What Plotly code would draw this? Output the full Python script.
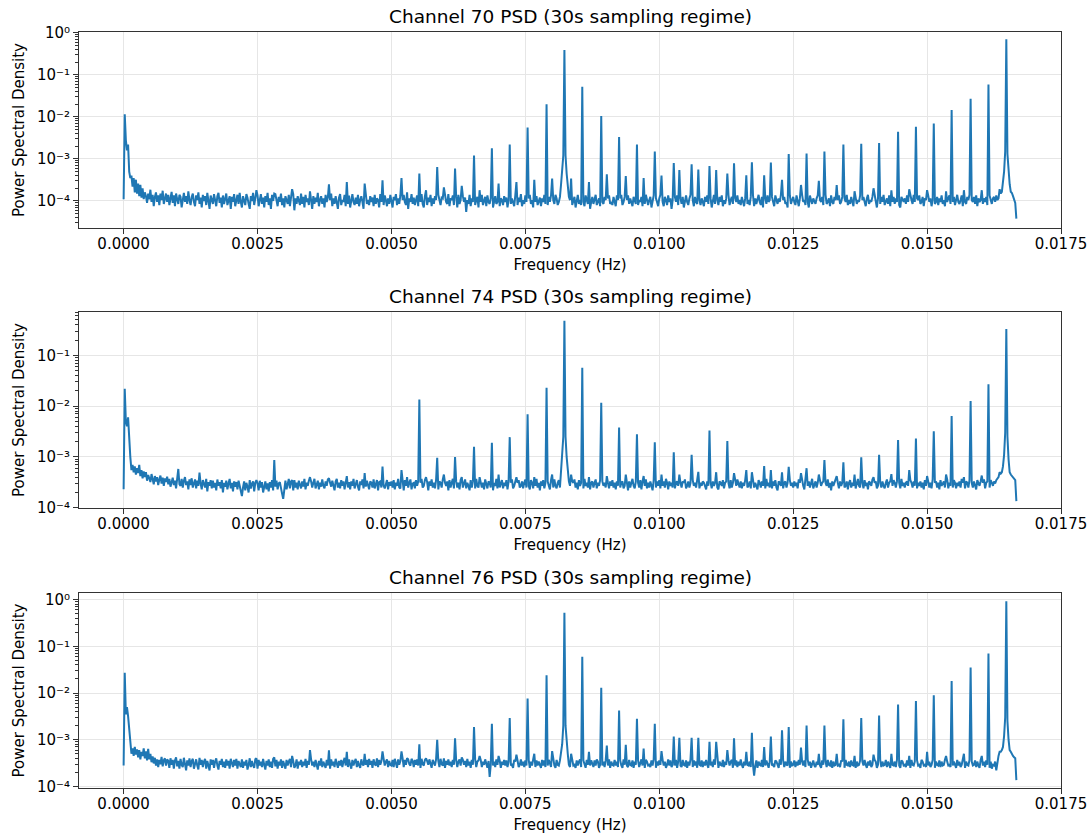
import numpy as np
import plotly.graph_objects as go

# ---------------- data ----------------
NYQUIST_HZ = 1 / 60  # 30 s sampling
TITLES = ["Channel 70 PSD (30s sampling regime)",
          "Channel 74 PSD (30s sampling regime)",
          "Channel 76 PSD (30s sampling regime)"]

X_TICKS = [0.0, 0.0025, 0.005, 0.0075, 0.01, 0.0125, 0.015, 0.0175]
X_TICK_LABELS = ["0.0000", "0.0025", "0.0050", "0.0075", "0.0100", "0.0125", "0.0150", "0.0175"]
Y_TICKS = [1, 0.1, 0.01, 0.001, 0.0001]
Y_TICK_LABELS = ["10\u2070", "10\u207b\u00b9", "10\u207b\u00b2", "10\u207b\u00b3", "10\u207b\u2074"]

# harmonic comb A (centred on 0.00823 Hz), m = -17 .. 24
A_FREQS = [0.002469, 0.002808, 0.003147, 0.003486, 0.003825, 0.004163, 0.004502, 0.004841,
           0.005180, 0.005519, 0.005858, 0.006197, 0.006536, 0.006874, 0.007213, 0.007552,
           0.007891, 0.008230, 0.008569, 0.008908, 0.009247, 0.009586, 0.009925, 0.010263,
           0.010602, 0.010941, 0.011280, 0.011619, 0.011958, 0.012297, 0.012636, 0.012975,
           0.013314, 0.013652, 0.013991, 0.014330, 0.014669, 0.015008, 0.015347, 0.015686,
           0.016025, 0.016364]
# harmonic comb B (folded from Nyquist), n = 0 .. 33
B_FREQS = [0.016482, 0.016143, 0.015804, 0.015465, 0.015126, 0.014788, 0.014449, 0.014110,
           0.013771, 0.013432, 0.013093, 0.012754, 0.012415, 0.012076, 0.011737, 0.011398,
           0.011060, 0.010721, 0.010382, 0.010043, 0.009704, 0.009365, 0.009026, 0.008687,
           0.008348, 0.008010, 0.007671, 0.007332, 0.006993, 0.006654, 0.006315, 0.005976,
           0.005637, 0.005299]
# skirts of the two dominant lines
SKIRT_FREQS = [0.008167, 0.008188, 0.008209, 0.008251, 0.008272, 0.008293,
               0.016419, 0.016440, 0.016461, 0.016503, 0.016524, 0.016545]

# peak heights
CH70_A = [1.8e-4, 1.5e-4, 1.9e-4, 1.7e-4, 2.5e-4, 2.8e-4, 2.6e-4, 3.1e-4, 3.5e-4, 4.5e-4,
          6.4e-4, 5.9e-4, 1.2e-3, 1.8e-3, 2.2e-3, 5.6e-3, 2.0e-2, 0.39, 0.052, 0.0104,
          3.3e-3, 2.2e-3, 1.5e-3, 8.0e-4, 7.4e-4, 6.8e-4, 4.5e-4, 4.1e-4, 4.1e-4, 3.2e-4,
          2.4e-4, 3.0e-4, 2.4e-4, 1.7e-4, 2.0e-4, 1.8e-4, 1.9e-4, 1.8e-4, 1.7e-4, 1.8e-4,
          1.8e-4, 1.9e-4]
CH70_B = [0.70, 0.059, 0.027, 0.0145, 0.0069, 0.0058, 0.0044, 0.0024, 0.0023, 0.0022,
          0.0015, 0.00134, 0.0013, 0.00082, 0.00083, 0.00079, 0.00054, 0.00056, 0.00054, 0.00040,
          0.00035, 0.00039, 0.00043, 0.00028, 0.00034, 0.00034, 0.00032, 0.00028, 0.00026, 0.00018,
          0.00023, 0.00021, 0.00018, 0.00016]
CH70_SKIRT = [2.5e-4, 4.5e-4, 1.2e-3, 1.2e-3, 4.5e-4, 2.5e-4,
              2.5e-4, 5.0e-4, 1.5e-3, 1.3e-3, 4.5e-4, 2.5e-4]
CH74_A = [3.5e-4, 8.7e-4, 3.5e-4, 4.0e-4, 3.8e-4, 4.2e-4, 4.8e-4, 6.5e-4, 5.5e-4, 0.0135,
          9.6e-4, 1.0e-3, 1.58e-3, 1.9e-3, 2.45e-3, 6.9e-3, 0.023, 0.48, 0.057, 0.0117,
          3.8e-3, 2.8e-3, 1.95e-3, 1.23e-3, 1.1e-3, 3.3e-3, 2.05e-3, 5.5e-4, 6.6e-4, 5.0e-4,
          4.8e-4, 4.5e-4, 4.2e-4, 4.5e-4, 4.0e-4, 4.6e-4, 5.5e-4, 4.2e-4, 4.5e-4, 4.0e-4,
          4.3e-4, 5.0e-4]
CH74_B = [0.33, 0.027, 0.0126, 0.0064, 0.0032, 0.0023, 0.00215, 0.0011, 0.00098, 0.00078,
          0.00087, 0.0006, 0.00064, 0.00055, 0.0005, 0.00048, 0.0005, 0.00051, 0.00045, 0.00045,
          0.00042, 0.00045, 0.00042, 0.0004, 0.00045, 0.00045, 0.0004, 0.0004, 0.00045, 0.0004,
          0.0004, 0.00045, 0.0004, 0.0004]
CH74_SKIRT = [5.5e-4, 1.0e-3, 2.5e-3, 2.5e-3, 1.0e-3, 5.5e-4,
              6.5e-4, 1.1e-3, 3.0e-3, 2.5e-3, 9.0e-4, 5.0e-4]
CH76_A = [4.0e-4, 4.2e-4, 4.5e-4, 6.0e-4, 5.9e-4, 5.5e-4, 5.0e-4, 5.6e-4, 5.6e-4, 8.0e-4,
          1.0e-3, 1.07e-3, 1.86e-3, 2.2e-3, 2.9e-3, 7.6e-3, 0.024, 0.52, 0.060, 0.0129,
          4.2e-3, 2.8e-3, 2.2e-3, 1.17e-3, 1.1e-3, 9.0e-4, 6.0e-4, 5.5e-4, 7.0e-4, 1.6e-3,
          6.8e-4, 5.0e-4, 5.0e-4, 4.5e-4, 4.8e-4, 5.0e-4, 4.5e-4, 5.5e-4, 4.5e-4, 5.0e-4,
          4.5e-4, 5.5e-4]
CH76_B = [0.92, 0.070, 0.035, 0.018, 0.0089, 0.0067, 0.0057, 0.0033, 0.0029, 0.00275,
          0.0020, 0.0020, 0.00186, 0.00117, 0.0014, 0.00107, 0.0009, 0.0011, 0.0011, 0.00057,
          0.00065, 0.00078, 0.00075, 0.00055, 0.0005, 0.00057, 0.0005, 0.00048, 0.00045, 0.00045,
          0.00042, 0.0004, 0.0004, 0.0004]
CH76_SKIRT = [5.0e-4, 8.0e-4, 2.0e-3, 2.0e-3, 8.0e-4, 5.0e-4,
              7.0e-4, 1.2e-3, 3.0e-3, 2.5e-3, 1.0e-3, 6.0e-4]

# broadband PSD level per frequency bin (units of 1e-6), 801 bins from 0 to Nyquist
CH70_BASE = [
    110, 11500, 2800, 1600, 2200, 500, 350, 400, 220, 350, 160, 320, 150, 260, 130, 240, 120, 200, 110, 160,
    130, 90, 150, 110, 185, 95, 140, 75, 125, 160, 95, 135, 80, 150, 105, 175, 85, 125, 150, 95,
    140, 80, 120, 165, 90, 135, 75, 150, 110, 85, 140, 125, 70, 120, 155, 95, 130, 85, 170, 105,
    80, 125, 150, 95, 75, 135, 105, 160, 85, 120, 70, 140, 100, 130, 80, 155, 95, 65, 135, 110,
    85, 145, 100, 75, 130, 155, 90, 120, 70, 135, 85, 110, 150, 80, 105, 130, 65, 125, 95, 145,
    75, 115, 140, 85, 155, 95, 70, 130, 105, 80, 145, 120, 85, 65, 130, 100, 155, 80, 115, 95,
    135, 75, 105, 145, 85, 120, 70, 130, 95, 155, 80, 115, 65, 140, 100, 85, 145, 105, 75, 125,
    95, 150, 80, 115, 70, 130, 105, 85, 140, 75, 120, 95, 145, 60, 115, 85, 130, 100, 80, 150,
    85, 125, 70, 140, 95, 115, 80, 145, 105, 65, 130, 85, 120, 95, 155, 75, 105, 130, 85, 115,
    70, 140, 95, 120, 80, 105, 150, 75, 115, 85, 130, 95, 65, 120, 145, 80, 105, 95, 140, 75,
    115, 85, 135, 70, 105, 145, 95, 80, 120, 85, 140, 75, 105, 130, 95, 65, 115, 150, 85, 105,
    80, 130, 95, 120, 75, 140, 85, 115, 105, 70, 145, 95, 120, 80, 135, 105, 75, 115, 85, 140,
    95, 70, 125, 105, 145, 80, 115, 85, 135, 75, 105, 140, 95, 80, 120, 65, 115, 95, 145, 85,
    120, 80, 105, 135, 75, 115, 95, 145, 85, 70, 130, 105, 80, 120, 95, 140, 75, 115, 85, 130,
    105, 75, 140, 95, 80, 120, 115, 65, 130, 95, 85, 145, 75, 115, 105, 135, 80, 95, 125, 70,
    140, 85, 105, 80, 130, 95, 120, 55, 105, 85, 140, 75, 115, 95, 130, 80, 105, 125, 70, 115,
    95, 140, 80, 105, 125, 75, 135, 95, 85, 115, 145, 70, 105, 130, 85, 95, 125, 75, 115, 105,
    80, 130, 95, 120, 70, 105, 140, 85, 115, 95, 75, 135, 105, 80, 120, 95, 145, 75, 105, 85,
    135, 95, 75, 115, 140, 85, 105, 70, 125, 95, 130, 80, 105, 120, 75, 115, 95, 140, 85, 105,
    80, 125, 95, 135, 75, 105, 85, 140, 115, 80, 95, 125, 70, 130, 105, 85, 115, 95, 75, 125,
    105, 135, 80, 95, 125, 70, 115, 140, 85, 105, 80, 125, 95, 75, 135, 105, 85, 115, 65, 95,
    125, 85, 105, 140, 80, 95, 115, 75, 130, 95, 85, 125, 105, 70, 115, 135, 85, 95, 80, 125,
    95, 75, 135, 105, 85, 115, 140, 80, 95, 125, 70, 105, 135, 85, 115, 95, 75, 125, 105, 85,
    135, 80, 105, 95, 125, 75, 115, 85, 140, 95, 80, 105, 125, 70, 95, 135, 85, 115, 95, 75,
    115, 140, 85, 95, 75, 125, 105, 80, 135, 95, 115, 65, 105, 85, 125, 95, 135, 80, 105, 115,
    85, 125, 70, 105, 135, 95, 80, 115, 140, 85, 105, 75, 125, 95, 85, 135, 105, 80, 115, 95,
    75, 125, 95, 135, 85, 105, 115, 70, 95, 140, 85, 115, 105, 80, 125, 95, 135, 75, 105, 85,
    115, 95, 140, 80, 105, 125, 85, 70, 115, 95, 135, 85, 105, 80, 125, 95, 75, 115, 140, 85,
    105, 80, 125, 95, 135, 75, 115, 85, 105, 140, 95, 80, 125, 70, 105, 115, 85, 135, 95, 105,
    80, 125, 95, 75, 135, 105, 85, 115, 95, 140, 80, 105, 125, 85, 95, 70, 115, 135, 85, 105,
    125, 95, 80, 135, 105, 75, 115, 85, 140, 95, 105, 80, 125, 95, 70, 135, 105, 85, 115, 95,
    85, 115, 135, 75, 105, 95, 125, 80, 105, 140, 85, 95, 115, 75, 135, 95, 85, 125, 105, 80,
    105, 135, 85, 95, 125, 75, 115, 95, 140, 80, 105, 85, 125, 95, 75, 135, 115, 85, 105, 95,
    135, 80, 105, 125, 95, 75, 115, 140, 85, 105, 95, 125, 80, 135, 95, 70, 115, 105, 85, 125,
    95, 140, 80, 105, 115, 85, 135, 75, 105, 95, 125, 85, 115, 95, 140, 80, 70, 125, 105, 95,
    115, 85, 135, 95, 75, 125, 105, 85, 140, 95, 80, 115, 105, 135, 85, 95, 125, 75, 115, 105,
    85, 135, 95, 115, 75, 105, 140, 85, 95, 125, 80, 115, 95, 135, 85, 105, 75, 125, 95, 115,
    135, 85, 105, 95, 125, 80, 115, 140, 95, 85, 105, 135, 75, 115, 95, 85, 125, 105, 140, 80,
    105, 95, 125, 85, 135, 75, 115, 95, 105, 140, 85, 115, 95, 125, 80, 105, 135, 95, 85, 115,
    125, 95, 135, 105, 115, 140, 150, 165, 150, 160, 170, 160, 150, 160, 170, 165, 155, 130, 110, 90,
    38]
CH74_BASE = [
    230, 22000, 5000, 4000, 6000, 1800, 1000, 550, 700, 500, 650, 450, 600, 480, 700, 420, 550, 380, 520, 400,
    500, 340, 440, 380, 320, 460, 350, 290, 420, 330, 400, 280, 360, 430, 300, 390, 270, 380, 320, 410,
    290, 370, 260, 350, 390, 280, 340, 240, 380, 580, 290, 270, 370, 250, 340, 400, 280, 330, 230, 360,
    280, 380, 250, 320, 360, 240, 340, 270, 490, 300, 230, 350, 300, 250, 370, 210, 320, 270, 350, 240,
    340, 250, 310, 220, 360, 270, 320, 240, 350, 200, 310, 260, 340, 230, 300, 370, 240, 310, 210, 330,
    260, 320, 230, 340, 270, 210, 170, 250, 330, 220, 310, 260, 200, 350, 240, 300, 330, 210, 310, 250,
    300, 220, 340, 250, 320, 200, 290, 330, 230, 300, 210, 320, 250, 350, 220, 310, 260, 340, 230, 300,
    320, 220, 190, 150, 260, 340, 230, 310, 370, 240, 330, 270, 220, 350, 250, 310, 230, 340, 270, 240,
    330, 260, 370, 230, 310, 270, 340, 220, 330, 250, 310, 370, 240, 300, 340, 230, 310, 260, 360, 270,
    240, 330, 270, 360, 230, 310, 260, 340, 280, 220, 330, 370, 250, 310, 240, 350, 270, 330, 230, 310,
    360, 250, 320, 230, 330, 270, 370, 240, 310, 350, 260, 220, 330, 280, 360, 240, 310, 260, 340, 270,
    230, 330, 310, 250, 360, 240, 300, 350, 220, 320, 330, 250, 370, 270, 240, 310, 350, 230, 320, 270,
    330, 250, 350, 230, 310, 270, 370, 250, 240, 330, 310, 220, 350, 270, 330, 250, 310, 360, 230, 300,
    310, 240, 350, 270, 330, 230, 310, 370, 250, 270, 350, 240, 320, 220, 330, 270, 360, 250, 310, 240,
    350, 270, 230, 330, 310, 250, 360, 240, 310, 270, 330, 220, 350, 250, 310, 370, 240, 270, 330, 250,
    310, 230, 350, 270, 250, 330, 360, 240, 310, 270, 220, 350, 250, 330, 310, 240, 370, 270, 250, 310,
    330, 250, 310, 230, 360, 270, 240, 330, 310, 250, 350, 220, 310, 270, 370, 240, 330, 250, 310, 350,
    240, 310, 270, 350, 230, 330, 250, 310, 360, 240, 270, 330, 220, 310, 350, 250, 270, 330, 240, 310,
    360, 250, 310, 270, 230, 350, 310, 240, 330, 270, 370, 250, 310, 220, 330, 270, 350, 240, 310, 250,
    330, 270, 230, 350, 310, 250, 360, 270, 240, 310, 350, 250, 330, 270, 310, 230, 350, 310, 250, 330,
    270, 240, 330, 310, 360, 250, 310, 230, 350, 270, 310, 330, 240, 370, 270, 310, 250, 350, 230, 310,
    330, 250, 310, 360, 240, 310, 270, 350, 220, 330, 270, 310, 250, 360, 310, 240, 330, 270, 350, 250,
    310, 230, 330, 270, 360, 250, 310, 330, 240, 270, 350, 310, 220, 330, 250, 310, 370, 270, 240, 330,
    270, 310, 250, 350, 230, 330, 310, 270, 360, 240, 310, 250, 330, 270, 220, 350, 310, 250, 330, 270,
    350, 240, 310, 270, 330, 250, 370, 310, 230, 330, 270, 310, 250, 350, 240, 310, 330, 270, 220, 310,
    250, 330, 310, 360, 240, 270, 330, 250, 310, 230, 350, 270, 310, 250, 330, 370, 240, 310, 270, 330,
    310, 250, 230, 330, 270, 350, 310, 240, 330, 270, 310, 360, 250, 230, 330, 310, 270, 350, 240, 310,
    330, 270, 310, 240, 350, 250, 310, 220, 330, 270, 360, 310, 250, 330, 240, 310, 270, 350, 310, 250,
    270, 330, 240, 310, 360, 250, 310, 270, 230, 350, 310, 250, 330, 270, 310, 240, 370, 270, 310, 250,
    310, 240, 330, 270, 350, 250, 220, 330, 310, 270, 360, 240, 310, 330, 250, 310, 230, 350, 270, 310,
    250, 330, 270, 310, 240, 360, 310, 250, 330, 270, 230, 350, 310, 270, 330, 250, 310, 370, 240, 270,
    330, 250, 310, 230, 350, 270, 310, 330, 240, 310, 270, 360, 250, 310, 220, 330, 270, 310, 350, 250,
    310, 240, 330, 270, 310, 360, 250, 270, 330, 230, 310, 350, 250, 310, 270, 330, 240, 310, 370, 270,
    250, 330, 310, 240, 350, 270, 310, 230, 330, 310, 270, 360, 250, 310, 330, 240, 270, 350, 310, 250,
    330, 270, 240, 310, 360, 250, 310, 330, 230, 270, 350, 310, 250, 330, 270, 310, 240, 370, 270, 310,
    250, 310, 330, 270, 230, 350, 310, 250, 330, 270, 360, 240, 310, 270, 330, 250, 310, 230, 350, 270,
    310, 330, 250, 310, 240, 360, 270, 310, 330, 250, 310, 230, 350, 270, 310, 330, 250, 270, 360, 240,
    310, 270, 330, 250, 350, 310, 240, 310, 270, 330, 250, 370, 310, 270, 240, 330, 310, 250, 350, 270,
    310, 250, 330, 270, 230, 350, 310, 270, 330, 250, 310, 360, 240, 310, 330, 270, 250, 350, 310, 270,
    330, 300, 350, 380, 400, 440, 470, 500, 520, 540, 560, 500, 330, 500, 480, 450, 420, 400, 380, 350,
    135]
CH76_BASE = [
    280, 27000, 3500, 5000, 3200, 1600, 700, 500, 650, 450, 700, 480, 620, 420, 600, 380, 550, 450, 650, 400,
    560, 360, 640, 380, 500, 330, 440, 310, 410, 280, 380, 260, 370, 300, 430, 270, 360, 400, 280, 380,
    350, 250, 400, 290, 370, 240, 360, 420, 270, 350, 240, 390, 290, 260, 410, 300, 220, 360, 280, 400,
    260, 350, 390, 240, 340, 380, 280, 230, 410, 290, 370, 260, 340, 390, 240, 350, 280, 220, 380, 290,
    370, 250, 340, 400, 280, 230, 350, 290, 390, 260, 340, 250, 380, 280, 350, 240, 390, 290, 260, 370,
    280, 390, 240, 350, 290, 260, 380, 250, 340, 280, 370, 230, 290, 400, 260, 350, 280, 250, 380, 290,
    240, 370, 280, 340, 260, 390, 290, 230, 350, 280, 380, 260, 340, 250, 390, 290, 270, 370, 240, 340,
    280, 380, 250, 350, 290, 240, 370, 280, 340, 390, 260, 290, 350, 250, 280, 380, 240, 340, 290, 370,
    260, 340, 280, 390, 250, 350, 290, 240, 380, 280, 340, 260, 370, 290, 230, 350, 280, 400, 260, 340,
    290, 250, 370, 280, 350, 240, 380, 280, 340, 260, 390, 290, 250, 350, 280, 370, 260, 340, 410, 280,
    350, 260, 380, 290, 240, 370, 280, 340, 390, 260, 350, 280, 250, 380, 300, 280, 420, 290, 370, 260,
    390, 290, 350, 250, 380, 300, 280, 400, 260, 370, 290, 350, 250, 390, 280, 340, 380, 260, 350, 290,
    280, 370, 260, 390, 300, 250, 380, 290, 350, 280, 400, 260, 370, 290, 250, 380, 300, 280, 390, 350,
    260, 370, 290, 380, 280, 350, 250, 390, 300, 280, 370, 260, 350, 290, 380, 280, 250, 370, 300, 280,
    380, 290, 350, 260, 390, 300, 280, 370, 250, 350, 290, 380, 280, 340, 260, 370, 290, 280, 360, 260,
    340, 380, 280, 250, 370, 290, 350, 260, 390, 280, 340, 250, 370, 290, 280, 380, 260, 340, 360, 280,
    370, 260, 340, 290, 380, 280, 250, 350, 160, 290, 370, 280, 340, 260, 380, 290, 280, 360, 250, 340,
    290, 370, 280, 360, 260, 340, 380, 280, 290, 250, 370, 340, 280, 360, 260, 290, 380, 280, 340, 260,
    360, 280, 290, 370, 250, 340, 280, 380, 290, 260, 360, 280, 340, 290, 250, 370, 280, 360, 260, 340,
    280, 370, 290, 260, 360, 340, 280, 250, 370, 290, 280, 360, 260, 340, 290, 380, 280, 250, 360, 290,
    260, 340, 370, 280, 290, 250, 360, 280, 340, 380, 260, 290, 360, 280, 250, 370, 290, 340, 280, 360,
    290, 260, 360, 280, 380, 340, 250, 290, 370, 280, 340, 260, 360, 290, 280, 380, 250, 340, 290, 280,
    370, 280, 340, 260, 290, 360, 280, 250, 380, 290, 340, 280, 260, 370, 290, 280, 360, 250, 340, 290,
    280, 360, 260, 340, 380, 280, 290, 250, 370, 340, 280, 290, 260, 360, 280, 380, 290, 250, 340, 280,
    360, 290, 260, 370, 280, 340, 250, 290, 380, 280, 360, 260, 290, 340, 280, 370, 250, 340, 290, 280,
    260, 370, 290, 280, 360, 250, 340, 280, 380, 290, 260, 360, 280, 340, 250, 370, 290, 280, 360, 260,
    340, 280, 370, 290, 250, 360, 280, 340, 260, 380, 290, 280, 360, 250, 340, 290, 280, 370, 260, 340,
    290, 260, 360, 280, 340, 370, 250, 290, 280, 360, 260, 340, 280, 380, 290, 250, 340, 280, 360, 290,
    280, 340, 260, 370, 290, 170, 280, 360, 250, 340, 290, 280, 370, 260, 340, 280, 360, 290, 250, 340,
    370, 280, 290, 260, 360, 340, 280, 250, 380, 290, 280, 360, 260, 340, 290, 280, 370, 250, 340, 280,
    290, 360, 260, 340, 280, 370, 290, 250, 340, 280, 360, 260, 290, 380, 280, 340, 250, 290, 360, 280,
    260, 340, 290, 370, 280, 250, 360, 290, 280, 340, 260, 370, 290, 280, 360, 250, 340, 280, 290, 370,
    280, 290, 260, 360, 340, 280, 250, 370, 290, 280, 340, 260, 360, 290, 280, 380, 250, 340, 280, 290,
    360, 260, 340, 280, 370, 290, 250, 340, 280, 360, 260, 290, 280, 370, 340, 250, 290, 280, 360, 260,
    340, 280, 290, 370, 260, 340, 280, 250, 360, 290, 280, 340, 260, 370, 290, 280, 250, 360, 340, 280,
    290, 260, 360, 280, 340, 250, 370, 290, 280, 340, 260, 360, 280, 290, 250, 370, 340, 280, 290, 260,
    360, 280, 340, 260, 290, 370, 280, 250, 340, 290, 280, 360, 260, 340, 280, 290, 370, 250, 340, 280,
    290, 260, 360, 280, 340, 290, 250, 370, 280, 340, 260, 290, 360, 280, 250, 340, 290, 280, 370, 260,
    340, 280, 290, 360, 260, 340, 280, 250, 370, 290, 280, 340, 260, 360, 290, 280, 250, 340, 240, 290,
    280, 340, 220, 360, 450, 500, 550, 600, 620, 650, 680, 700, 320, 650, 600, 550, 480, 450, 420, 400,
    136]

CHANNELS = [(CH70_BASE, CH70_A, CH70_B, CH70_SKIRT),
            (CH74_BASE, CH74_A, CH74_B, CH74_SKIRT),
            (CH76_BASE, CH76_A, CH76_B, CH76_SKIRT)]
Y_RANGES = [(-4.643, 0.017), (-4.005, -0.148), (-4.034, 0.141)]

# ---------------- figure ----------------
LINE_COLOR = "#1f77b4"
AX_COLOR = "#333333"
GRID_COLOR = "#e6e6e6"
FONT = "DejaVu Sans"

W, H = 1091, 837
M_L, M_R, M_T, M_B = 79, 30, 32, 49
plot_h = H - M_T - M_B
PANELS_PX = [(32, 228), (312, 508), (593, 788)]


def to_paper(ypx):
    return (H - M_B - ypx) / plot_h


def build(base, a_vals, b_vals, skirt_vals):
    n = len(base)
    freqs = np.linspace(0.0, NYQUIST_HZ, n)
    df = freqs[1] - freqs[0]
    psd = np.array(base, dtype=float) * 1e-6
    pairs = list(zip(SKIRT_FREQS, skirt_vals)) + list(zip(A_FREQS, a_vals)) + list(zip(B_FREQS, b_vals))
    for f, v in pairs:
        i = int(round(f / df))
        psd[i] = max(psd[i], v)
    return freqs, psd


minor_vals = [m * 10.0 ** e for e in range(-5, 1) for m in range(2, 10)]

fig = go.Figure()
annotations = []
for k, ((base, a_vals, b_vals, s_vals), title, yr, (ptop, pbot)) in enumerate(
        zip(CHANNELS, TITLES, Y_RANGES, PANELS_PX), start=1):
    fx, fy = build(base, a_vals, b_vals, s_vals)
    fig.add_trace(go.Scatter(x=fx, y=fy, mode="lines",
                             line=dict(color=LINE_COLOR, width=2),
                             xaxis=f"x{k}", yaxis=f"y{k}", showlegend=False,
                             hoverinfo="skip"))
    dom = [to_paper(pbot), to_paper(ptop)]
    common = dict(showline=True, mirror=True, linecolor=AX_COLOR, linewidth=1,
                  ticks="outside", ticklen=5, tickwidth=1, tickcolor=AX_COLOR,
                  showgrid=True, gridcolor=GRID_COLOR, gridwidth=1, zeroline=False,
                  automargin=False,
                  tickfont=dict(family=FONT, size=15, color="#000000"))
    fig.layout[f"xaxis{k}"] = dict(
        domain=[0, 1], anchor=f"y{k}", range=[-0.000833, 0.0175],
        tickmode="array", tickvals=X_TICKS, ticktext=X_TICK_LABELS,
        ticklabelstandoff=-3,
        title=dict(text="Frequency (Hz)", font=dict(family=FONT, size=15, color="#000000"),
                   standoff=7),
        **common)
    fig.layout[f"yaxis{k}"] = dict(
        domain=dom, anchor=f"x{k}", type="log", range=list(yr),
        tickmode="array", tickvals=Y_TICKS, ticktext=Y_TICK_LABELS,
        minor=dict(tickmode="array", tickvals=minor_vals, ticks="outside", ticklen=3,
                   tickcolor=AX_COLOR, showgrid=False),
        title=dict(text="Power Spectral Density", font=dict(family=FONT, size=15, color="#000000"),
                   standoff=8),
        **common)
    annotations.append(dict(text=title, xref="paper", yref="paper", x=0.5,
                            y=to_paper(ptop - 16),
                            xanchor="center", yanchor="middle", showarrow=False,
                            font=dict(family=FONT, size=18.5, color="#000000")))

fig.update_layout(width=W, height=H, autosize=False,
                  margin=dict(l=M_L, r=M_R, t=M_T, b=M_B),
                  paper_bgcolor="white", plot_bgcolor="white",
                  font=dict(family=FONT, size=15, color="#000000"),
                  annotations=annotations)
fig.write_html("out.html")
